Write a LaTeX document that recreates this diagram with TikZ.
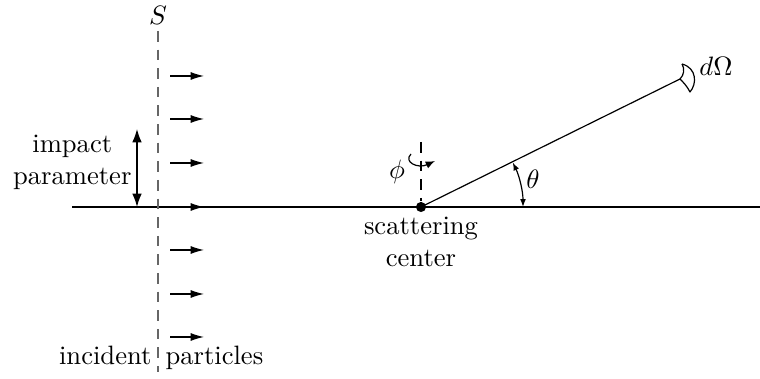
\documentclass[tikz,border=0pt]{standalone}
\usetikzlibrary{arrows.meta}
\begin{document}
\begin{tikzpicture}[x=0.376pt,y=-0.376pt,
  txt/.style={inner sep=0pt},
  partarrow/.style={line width=0.45pt,-{Latex[length=5pt,width=3pt]}},
  dashgray/.style={gray!80!black,line width=0.45pt,dash pattern=on 4pt off 3pt},
  smallarr/.style={line width=0.45pt,{Latex[length=3pt,width=2.2pt]}-{Latex[length=3pt,width=2.2pt]}}]
\useasboundingbox (0,0) rectangle (760,379);
% axis
\coordinate (axL) at (72,207);
\coordinate (axR) at (760,207);
\draw[line width=0.55pt] (axL) -- (axR);
% screen S
\coordinate (sTop) at (158,31);
\coordinate (sBot) at (158,372);
\draw[dashgray] (sTop) -- (sBot);
\node[txt] (S) at (158,15) {$S$};
% incident arrows
\foreach \i/\y in {1/76,2/119,3/163,4/207,5/250,6/294,7/337}{
  \coordinate (a\i s) at (170,\y);
  \coordinate (a\i e) at (204,\y);
  \draw[partarrow] (a\i s) -- (a\i e);
}
% impact parameter
\coordinate (ipT) at (137,129);
\coordinate (ipB) at (137,207);
\draw[line width=0.5pt,{Latex[length=5pt,width=3.6pt]}-{Latex[length=5pt,width=3.6pt]}] (ipT) -- (ipB);
\node[txt,align=center,anchor=east] (ip) at (132,162) {impact\\parameter};
% scattering center
\node[circle,fill=black,inner sep=0pt,minimum size=3.8pt] (sc) at (421,207) {};
\coordinate (phT) at (421,142);
\draw[black,line width=0.45pt,dash pattern=on 4pt off 3pt] (phT) -- (sc.north);
\coordinate (phA) at (411,154);
\coordinate (phB) at (435,161);
\draw[line width=0.45pt,-{Latex[length=3.5pt,width=2.8pt]}] (phA) .. controls (403,162) and (418,169) .. (phB);
\node[txt] (phi) at (397,172) {$\phi$};
\node[txt,align=center,anchor=north] (sclab) at (421,217) {scattering\\center};
% outgoing
\coordinate (out) at (680,79);
\draw[line width=0.45pt] (sc.center) -- (out);
\draw[line width=0.45pt,line join=round] (682,64) .. controls (697,68) and (697,84) .. (690,92)
  .. controls (687,86) and (683,82) .. (out) .. controls (684,75) and (685,69) .. (682,64);
\node[txt] (dOm) at (716,66) {$d\Omega$};
% theta
\coordinate (thS) at (523,207);
\draw[smallarr] (thS) arc[start angle=0,end angle=25.9,radius=38.35pt];
\node[txt] (th) at (533,179) {$\theta$};
% bottom labels
\node[txt,anchor=base east] (inc) at (152,365) {incident};
\node[txt,anchor=base west] (par) at (165,365) {particles};
\end{tikzpicture}
\end{document}
